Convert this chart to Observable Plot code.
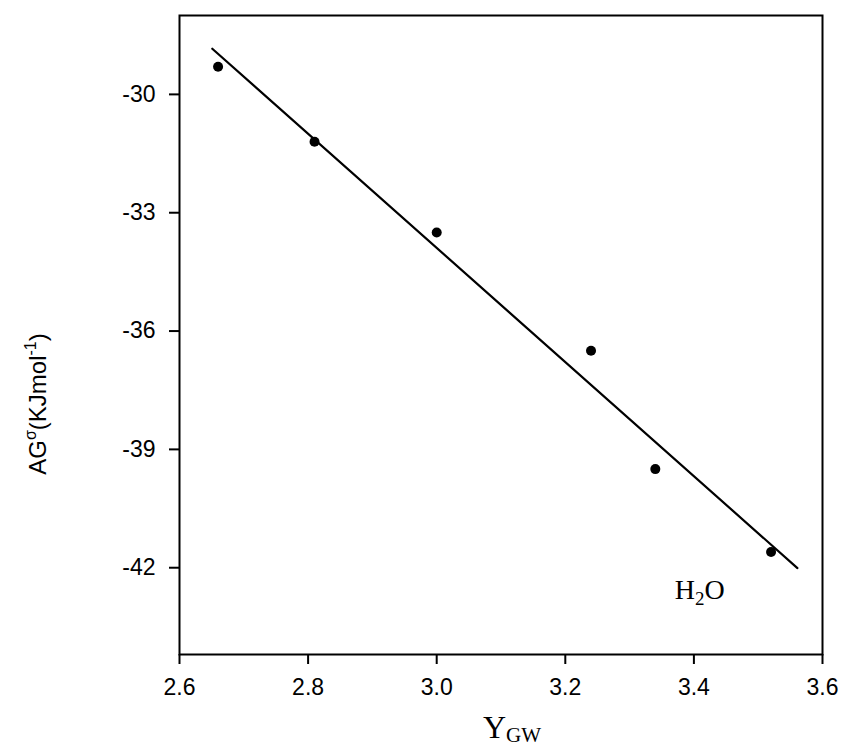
<!DOCTYPE html>
<html>
<head>
<meta charset="utf-8">
<script src="https://cdn.jsdelivr.net/npm/d3@7"></script>
<script src="https://cdn.jsdelivr.net/npm/@observablehq/plot@0.6"></script>
<style>
  html, body { margin: 0; padding: 0; background: #fff; }
  #chart svg { display: block; }
</style>
</head>
<body>
<div id="chart"></div>
<script>
// Gibbs energy against Y_GW for water
const ygw = [2.66, 2.81, 3.00, 3.24, 3.34, 3.52];
const deltaG = [-29.3, -31.2, -33.5, -36.5, -39.5, -41.6];
const xTicks = [2.6, 2.8, 3.0, 3.2, 3.4, 3.6];
const yTicks = [-30, -33, -36, -39, -42];
const fitSpan = [2.651, 3.561];
const seriesLabel = "H2O";
const labelAt = [3.41, -42.8];

const points = ygw.map((x, i) => ({x, y: deltaG[i]}));

// least-squares fit drawn across fitSpan
const mx = d3.mean(ygw), my = d3.mean(deltaG);
const slope = d3.sum(points, p => (p.x - mx) * (p.y - my)) / d3.sum(points, p => (p.x - mx) ** 2);
const intercept = my - slope * mx;
const fitLine = fitSpan.map(x => ({x, y: intercept + slope * x}));

const plot = Plot.plot({
  width: 842,
  height: 753,
  marginLeft: 179,
  marginRight: 20,
  marginTop: 15,
  marginBottom: 99,
  style: {fontFamily: "'Liberation Sans', Arial, sans-serif", color: "#000", background: "#fff"},
  x: {domain: [2.6, 3.6]},
  y: {domain: [-44.2, -28]},
  marks: [
    Plot.frame({stroke: "#000", strokeWidth: 2}),
    Plot.axisX({ticks: xTicks, tickFormat: d => d.toFixed(1), tickSize: 10, tickPadding: 14,
                fontSize: 23, strokeWidth: 2, label: null}),
    Plot.axisY({ticks: yTicks, tickFormat: d => String(d), tickSize: 10, tickPadding: 14,
                fontSize: 23, strokeWidth: 2, label: null}),
    Plot.line(fitLine, {x: "x", y: "y", stroke: "#000", strokeWidth: 2.2}),
    Plot.dot(points, {x: "x", y: "y", r: 5, fill: "#000", stroke: "none"})
  ]
});
document.getElementById("chart").appendChild(plot);

const svg = d3.select(plot);
const sx = plot.scale("x"), sy = plot.scale("y");

// series label with subscript
const h2o = svg.append("text")
  .attr("x", sx.apply(labelAt[0])).attr("y", sy.apply(labelAt[1]))
  .attr("font-family", "'Liberation Serif', 'Times New Roman', serif")
  .attr("font-size", 28).attr("fill", "#000");
h2o.append("tspan").text(seriesLabel[0]);
h2o.append("tspan").attr("font-size", 19).attr("dy", 6).text(seriesLabel[1]);
h2o.append("tspan").attr("dy", -6).text(seriesLabel[2]);

// x-axis title: Y with subscript GW
const xt = svg.append("text")
  .attr("x", 512).attr("y", 738).attr("text-anchor", "middle")
  .attr("font-family", "'Liberation Serif', 'Times New Roman', serif")
  .attr("font-size", 32).attr("fill", "#000");
xt.append("tspan").text("Y");
xt.append("tspan").attr("font-size", 21).attr("dy", 4).text("GW");

// y-axis title with superscripts
const yt = svg.append("text")
  .attr("transform", "translate(46,404) rotate(-90)")
  .attr("text-anchor", "middle")
  .attr("font-family", "'Liberation Sans', Arial, sans-serif")
  .attr("font-size", 24).attr("fill", "#000");
yt.append("tspan").text("AG");
yt.append("tspan").attr("font-size", 16).attr("dy", -10).text("σ");
yt.append("tspan").attr("dy", 10).text("(KJmol");
yt.append("tspan").attr("font-size", 16).attr("dy", -10).text("-1");
yt.append("tspan").attr("dy", 10).text(")");
</script>
</body>
</html>
